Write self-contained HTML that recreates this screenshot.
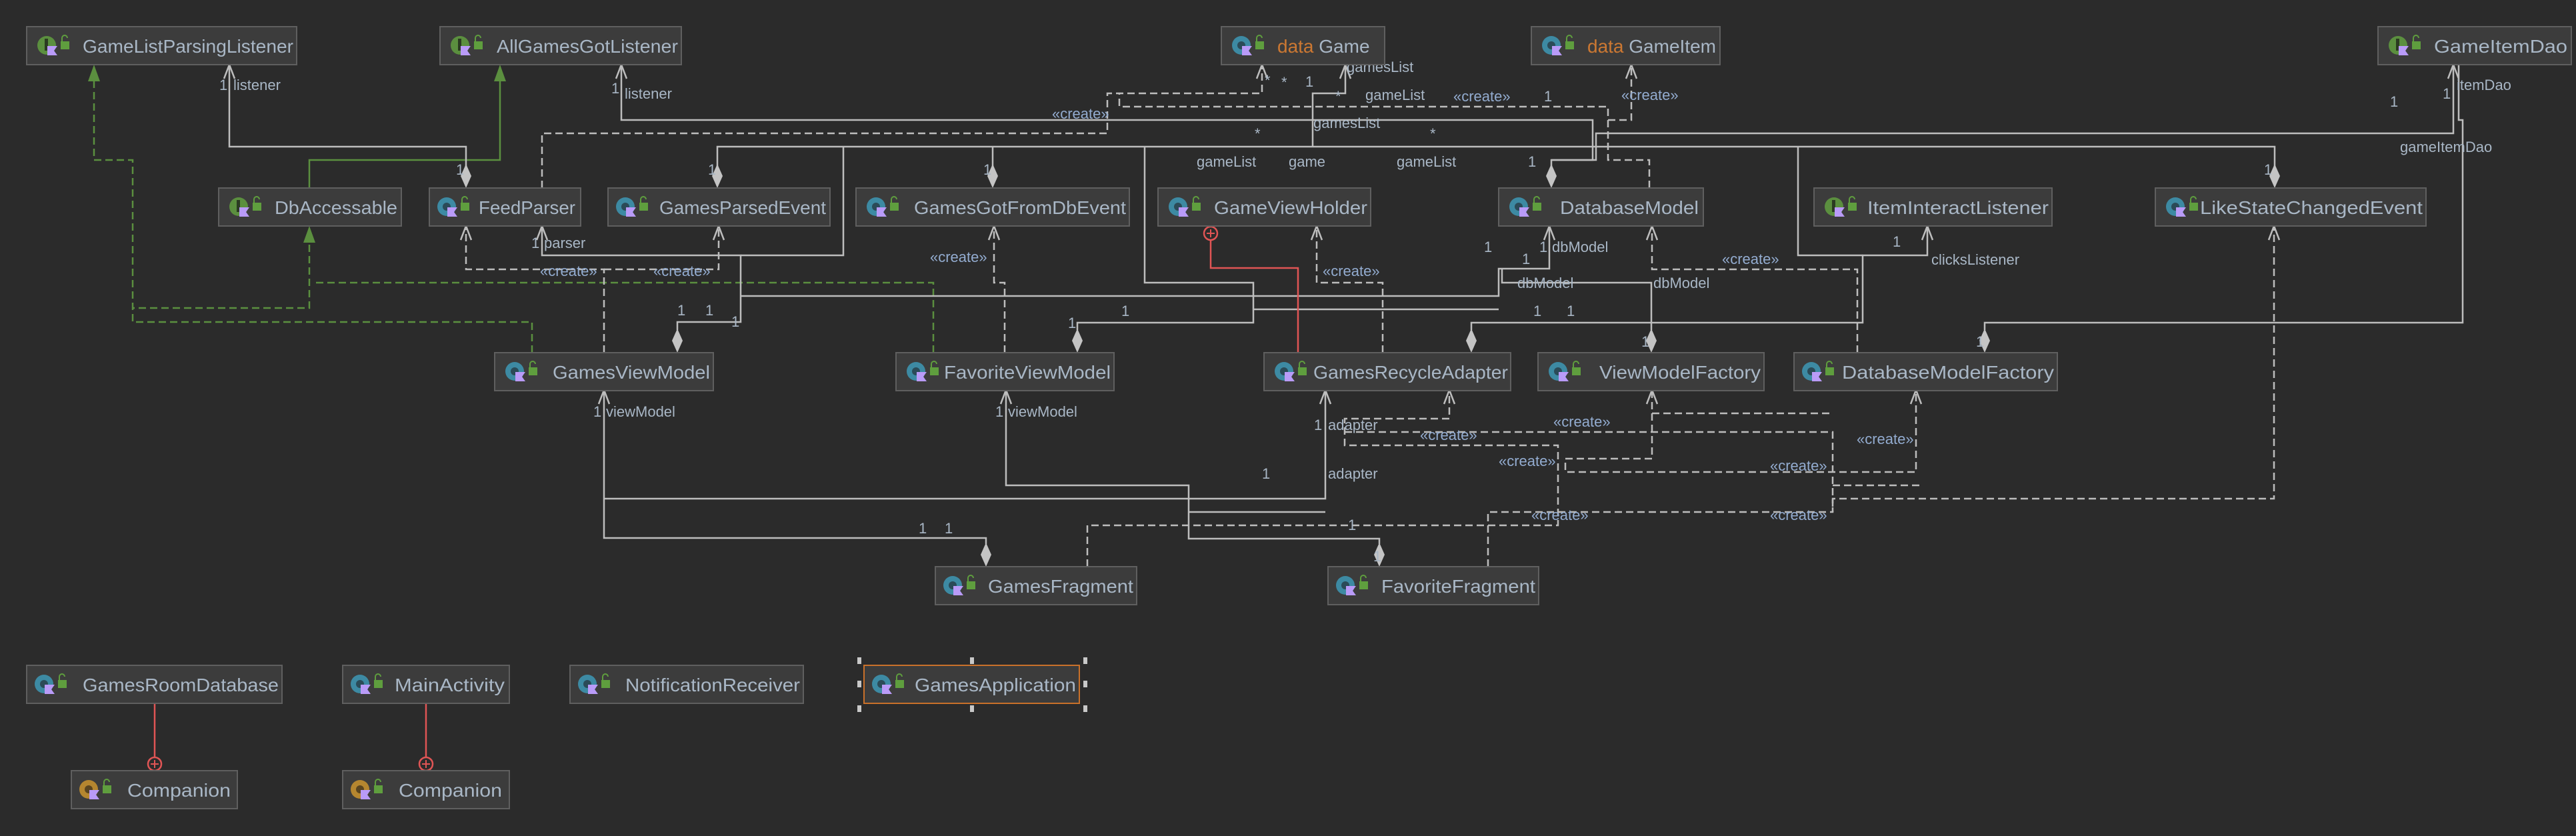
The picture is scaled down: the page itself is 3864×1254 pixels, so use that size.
<!DOCTYPE html>
<html><head><meta charset="utf-8"><style>
html,body{margin:0;padding:0;background:#2b2b2b;}
svg{display:block;}
.bx{fill:#3c3c3c;stroke:#5f5f5f;stroke-width:2;}
.nm{font-family:"Liberation Sans",sans-serif;font-size:28px;fill:#a9b7c6;}
.lb{font-family:"Liberation Sans",sans-serif;font-size:22px;fill:#a9b7c6;}
.cr{font-family:"Liberation Sans",sans-serif;font-size:22px;fill:#93acd0;}
.s{fill:none;stroke:#bdbdbd;stroke-width:2.5;}
.d{fill:none;stroke:#bdbdbd;stroke-width:2.5;stroke-dasharray:11,6;}
.g{fill:none;stroke:#5b8f3f;stroke-width:2.5;}
.gd{fill:none;stroke:#5b8f3f;stroke-width:2.5;stroke-dasharray:11,6;}
.r{fill:none;stroke:#e05555;stroke-width:2.5;}
.ar{fill:none;stroke:#bdbdbd;stroke-width:2.5;}
.dm{fill:#c4c4c4;}
</style></head><body>
<svg width="3864" height="1254" viewBox="0 0 3864 1254" xmlns="http://www.w3.org/2000/svg">
<defs>
<symbol id="ic" viewBox="0 0 60 40" width="60" height="40"><circle cx="24" cy="20" r="14" fill="#3d8aa3"/><circle cx="24" cy="20" r="6" fill="#2b4b58"/><path d="M25 21h15l-5 7 5 7H25z" fill="#b99bf8"/><rect x="45" y="14" width="13" height="12" fill="#5f9e3e"/><path d="M47 14v-5a4 4 0 0 1 8 0" fill="none" stroke="#5f9e3e" stroke-width="2"/></symbol>
<symbol id="ii" viewBox="0 0 60 40" width="60" height="40"><circle cx="24" cy="20" r="14" fill="#5b8f3f"/><rect x="21" y="10" width="5" height="18" fill="#2b3b22"/><path d="M25 21h15l-5 7 5 7H25z" fill="#b99bf8"/><rect x="45" y="14" width="13" height="12" fill="#5f9e3e"/><path d="M47 14v-5a4 4 0 0 1 8 0" fill="none" stroke="#5f9e3e" stroke-width="2"/></symbol>
<symbol id="io" viewBox="0 0 60 40" width="60" height="40"><circle cx="24" cy="20" r="14" fill="#b5862f"/><circle cx="24" cy="20" r="6" fill="#5a4520"/><path d="M25 21h15l-5 7 5 7H25z" fill="#b99bf8"/><rect x="45" y="14" width="13" height="12" fill="#5f9e3e"/><path d="M47 14v-5a4 4 0 0 1 8 0" fill="none" stroke="#5f9e3e" stroke-width="2"/></symbol>
</defs>

<!-- ========== CONNECTORS ========== -->
<!-- green inheritance -->
<path class="g" d="M464,282 V240 H750 V110"/>
<polygon points="750,97 741,122 759,122" fill="#5b8f3f"/>
<path class="gd" d="M798,529 V483 H199 V240 H141 V110"/>
<polygon points="141,97 132,122 150,122" fill="#5b8f3f"/>
<path class="gd" d="M464,350 V462 H199"/>
<polygon points="464,339 455,364 473,364" fill="#5b8f3f"/>
<path class="gd" d="M1400,529 V424 H470"/>

<!-- solid associations -->
<path class="s" d="M699,250 V220 H344 V98"/>
<path class="s" d="M932,98 V180 H2389 V240 H2327 V250"/>
<path class="s" d="M2327,240 H2394 V200 H3680 V98"/>
<path class="s" d="M1076,250 V220 H3412 V250"/>
<path class="s" d="M1489,250 V220"/>
<path class="s" d="M2018,98 V140 H1969 V220"/>
<path class="s" d="M1016,495 V483 H1111 V383 H813 V340"/>
<path class="s" d="M1111,383 H1265 V220"/>
<path class="s" d="M1111,444 H2248 V403 H2324 V340"/>
<path class="s" d="M1616,495 V484 H1880 V424 H1717 V220"/>
<path class="s" d="M1880,464 H2248"/>
<path class="s" d="M2477,495 V424 H2253 V403"/>
<path class="s" d="M2207,495 V484 H2794 V383 H2891 V340"/>
<path class="s" d="M2794,383 H2697 V220"/>
<path class="s" d="M2977,495 V484 H3694 V180 H3688 V98"/>
<path class="s" d="M1479,816 V807 H906 V586"/>
<path class="s" d="M906,748 H1988 V586"/>
<path class="s" d="M2069,816 V808 H1783 V728 H1509 V586"/>
<path class="s" d="M1783,768 H1988"/>

<!-- dashed dependencies -->
<path class="d" d="M813,282 V200 H1661 V140 H1893 V98"/>
<path class="d" d="M2474,282 V240 H2412 V160 H1679 V140"/>
<path class="d" d="M2412,180 H2447 V98"/>
<path class="d" d="M906,529 V404 H699 V340"/>
<path class="d" d="M906,404 H1078 V340"/>
<path class="d" d="M1507,529 V424 H1491 V340"/>
<path class="d" d="M2074,529 V424 H1975 V340"/>
<path class="d" d="M2786,529 V404 H2478 V340"/>
<path class="d" d="M1631,850 V788 H2337 V668 H2017 V628 H2174 V586"/>
<path class="d" d="M2017,648 H2749 V768"/>
<path class="d" d="M2232,850 V768 H2749 V748 H3411 V340"/>
<path class="d" d="M2478,586 V688 H2348 V708 H2874 V586"/>
<path class="d" d="M2478,620 H2749"/>
<path class="d" d="M2749,728 H2881"/>

<!-- open arrowheads -->
<g class="ar">
<path d="M336,118 L344,97 L352,118"/>
<path d="M924,118 L932,97 L940,118"/>
<path d="M3672,118 L3680,97 L3688,118"/>
<path d="M2010,118 L2018,97 L2026,118"/>
<path d="M1885,118 L1893,97 L1901,118"/>
<path d="M2439,118 L2447,97 L2455,118"/>
<path d="M805,360 L813,339 L821,360"/>
<path d="M691,360 L699,339 L707,360"/>
<path d="M1070,360 L1078,339 L1086,360"/>
<path d="M1483,360 L1491,339 L1499,360"/>
<path d="M1967,360 L1975,339 L1983,360"/>
<path d="M2316,360 L2324,339 L2332,360"/>
<path d="M2470,360 L2478,339 L2486,360"/>
<path d="M2883,360 L2891,339 L2899,360"/>
<path d="M3403,360 L3411,339 L3419,360"/>
<path d="M898,606 L906,585 L914,606"/>
<path d="M1501,606 L1509,585 L1517,606"/>
<path d="M1980,606 L1988,585 L1996,606"/>
<path d="M2166,606 L2174,585 L2182,606"/>
<path d="M2470,606 L2478,585 L2486,606"/>
<path d="M2866,606 L2874,585 L2882,606"/>
</g>

<!-- diamonds -->
<g class="dm">
<polygon points="699,282 691,264 699,246 707,264"/>
<polygon points="2327,282 2319,264 2327,246 2335,264"/>
<polygon points="1076,282 1068,264 1076,246 1084,264"/>
<polygon points="1489,282 1481,264 1489,246 1497,264"/>
<polygon points="3412,282 3404,264 3412,246 3420,264"/>
<polygon points="1016,529 1008,511 1016,493 1024,511"/>
<polygon points="1616,529 1608,511 1616,493 1624,511"/>
<polygon points="2207,529 2199,511 2207,493 2215,511"/>
<polygon points="2477,529 2469,511 2477,493 2485,511"/>
<polygon points="2977,529 2969,511 2977,493 2985,511"/>
<polygon points="1479,850 1471,832 1479,814 1487,832"/>
<polygon points="2069,850 2061,832 2069,814 2077,832"/>
</g>

<!-- nested (red) -->
<path class="r" d="M1816,360 V402 H1947 V529"/>
<circle cx="1816" cy="350" r="10" fill="none" stroke="#e05555" stroke-width="2.5"/>
<path d="M1810,350h12M1816,344v12" stroke="#e05555" stroke-width="2"/>
<path class="r" d="M232,1056 V1136"/>
<circle cx="232" cy="1146" r="10" fill="none" stroke="#e05555" stroke-width="2.5"/>
<path d="M226,1146h12M232,1140v12" stroke="#e05555" stroke-width="2"/>
<path class="r" d="M639,1056 V1136"/>
<circle cx="639" cy="1146" r="10" fill="none" stroke="#e05555" stroke-width="2.5"/>
<path d="M633,1146h12M639,1140v12" stroke="#e05555" stroke-width="2"/>

<!-- ========== LABELS ========== -->
<text class="lb" x="329" y="135">1</text><text class="lb" x="350" y="135">listener</text>
<text class="lb" x="917" y="140">1</text><text class="lb" x="937" y="148">listener</text>
<text class="lb" x="684" y="262">1</text>
<text class="lb" x="1062" y="262">1</text>
<text class="lb" x="1475" y="262">1</text>
<text class="lb" x="2292" y="250">1</text>
<text class="lb" x="3396" y="262">1</text>
<text class="lb" x="2020" y="108">gamesList</text>
<text class="lb" x="1897" y="128">*</text><text class="lb" x="1922" y="131">*</text><text class="lb" x="1958" y="130">1</text>
<text class="lb" x="2003" y="152">*</text>
<text class="lb" x="2048" y="150">gameList</text>
<text class="cr" x="2180" y="152">«create»</text>
<text class="lb" x="2316" y="152">1</text>
<text class="cr" x="1578" y="178">«create»</text>
<text class="lb" x="1970" y="192">gamesList</text>
<text class="lb" x="1882" y="208">*</text><text class="lb" x="2145" y="208">*</text>
<text class="lb" x="1795" y="250">gameList</text>
<text class="lb" x="1933" y="250">game</text>
<text class="lb" x="2095" y="250">gameList</text>
<text class="cr" x="2432" y="150">«create»</text>
<text class="lb" x="3585" y="160">1</text><text class="lb" x="3664" y="148">1</text><text class="lb" x="3685" y="135">itemDao</text>
<text class="lb" x="3600" y="228">gameItemDao</text>
<text class="lb" x="797" y="372">1</text><text class="lb" x="816" y="372">parser</text>
<text class="cr" x="810" y="414">«create»</text><text class="cr" x="980" y="414">«create»</text>
<text class="lb" x="1016" y="473">1</text><text class="lb" x="1058" y="473">1</text><text class="lb" x="1097" y="490">1</text>
<text class="cr" x="1395" y="393">«create»</text>
<text class="lb" x="1682" y="474">1</text><text class="lb" x="1602" y="492">1</text>
<text class="cr" x="1984" y="414">«create»</text>
<text class="lb" x="2226" y="378">1</text><text class="lb" x="2309" y="378">1</text><text class="lb" x="2328" y="378">dbModel</text><text class="lb" x="2283" y="396">1</text>
<text class="lb" x="2276" y="432">dbModel</text><text class="lb" x="2480" y="432">dbModel</text>
<text class="cr" x="2583" y="396">«create»</text>
<text class="lb" x="2839" y="370">1</text><text class="lb" x="2897" y="397">clicksListener</text>
<text class="lb" x="2300" y="474">1</text><text class="lb" x="2350" y="474">1</text>
<text class="lb" x="2462" y="520">1</text><text class="lb" x="2964" y="520">1</text>
<text class="lb" x="890" y="625">1</text><text class="lb" x="909" y="625">viewModel</text>
<text class="lb" x="1493" y="625">1</text><text class="lb" x="1512" y="625">viewModel</text>
<text class="lb" x="1971" y="645">1</text><text class="lb" x="1992" y="645">adapter</text>
<text class="lb" x="1893" y="718">1</text><text class="lb" x="1992" y="718">adapter</text>
<text class="lb" x="1378" y="800">1</text><text class="lb" x="1417" y="800">1</text>
<text class="lb" x="2022" y="795">1</text><text class="lb" x="2060" y="842">1</text>
<text class="cr" x="2330" y="640">«create»</text>
<text class="cr" x="2130" y="660">«create»</text>
<text class="cr" x="2248" y="699">«create»</text>
<text class="cr" x="2785" y="666">«create»</text>
<text class="cr" x="2655" y="706">«create»</text>
<text class="cr" x="2297" y="780">«create»</text>
<text class="cr" x="2655" y="780">«create»</text>

<!-- ========== BOXES ========== -->
<g class="nm">
<rect class="bx" x="40" y="40" width="405" height="57"/><use href="#ii" x="46" y="48"/><text x="124" y="79" textLength="316" lengthAdjust="spacingAndGlyphs">GameListParsingListener</text>
<rect class="bx" x="660" y="40" width="362" height="57"/><use href="#ii" x="666" y="48"/><text x="745" y="79" textLength="272" lengthAdjust="spacingAndGlyphs">AllGamesGotListener</text>
<rect class="bx" x="1832" y="40" width="245" height="57"/><use href="#ic" x="1838" y="48"/><text x="1916" y="79"><tspan fill="#cc7832">data</tspan> Game</text>
<rect class="bx" x="2297" y="40" width="283" height="57"/><use href="#ic" x="2303" y="48"/><text x="2381" y="79"><tspan fill="#cc7832">data</tspan> GameItem</text>
<rect class="bx" x="3567" y="40" width="290" height="57"/><use href="#ii" x="3573" y="48"/><text x="3651" y="79" textLength="200" lengthAdjust="spacingAndGlyphs">GameItemDao</text>

<rect class="bx" x="328" y="282" width="274" height="57"/><use href="#ii" x="334" y="290"/><text x="412" y="321" textLength="184" lengthAdjust="spacingAndGlyphs">DbAccessable</text>
<rect class="bx" x="644" y="282" width="227" height="57"/><use href="#ic" x="646" y="290"/><text x="718" y="321" textLength="145" lengthAdjust="spacingAndGlyphs">FeedParser</text>
<rect class="bx" x="912" y="282" width="333" height="57"/><use href="#ic" x="914" y="290"/><text x="989" y="321" textLength="250" lengthAdjust="spacingAndGlyphs">GamesParsedEvent</text>
<rect class="bx" x="1284" y="282" width="410" height="57"/><use href="#ic" x="1290" y="290"/><text x="1371" y="321" textLength="318" lengthAdjust="spacingAndGlyphs">GamesGotFromDbEvent</text>
<rect class="bx" x="1737" y="282" width="319" height="57"/><use href="#ic" x="1743" y="290"/><text x="1821" y="321" textLength="230" lengthAdjust="spacingAndGlyphs">GameViewHolder</text>
<rect class="bx" x="2248" y="282" width="307" height="57"/><use href="#ic" x="2254" y="290"/><text x="2340" y="321" textLength="208" lengthAdjust="spacingAndGlyphs">DatabaseModel</text>
<rect class="bx" x="2721" y="282" width="357" height="57"/><use href="#ii" x="2727" y="290"/><text x="2801" y="321" textLength="272" lengthAdjust="spacingAndGlyphs">ItemInteractListener</text>
<rect class="bx" x="3233" y="282" width="406" height="57"/><use href="#ic" x="3239" y="290"/><text x="3300" y="321" textLength="334" lengthAdjust="spacingAndGlyphs">LikeStateChangedEvent</text>

<rect class="bx" x="742" y="529" width="328" height="57"/><use href="#ic" x="748" y="537"/><text x="829" y="568" textLength="236" lengthAdjust="spacingAndGlyphs">GamesViewModel</text>
<rect class="bx" x="1344" y="529" width="327" height="57"/><use href="#ic" x="1350" y="537"/><text x="1416" y="568" textLength="250" lengthAdjust="spacingAndGlyphs">FavoriteViewModel</text>
<rect class="bx" x="1896" y="529" width="370" height="57"/><use href="#ic" x="1902" y="537"/><text x="1970" y="568" textLength="292" lengthAdjust="spacingAndGlyphs">GamesRecycleAdapter</text>
<rect class="bx" x="2307" y="529" width="339" height="57"/><use href="#ic" x="2313" y="537"/><text x="2399" y="568" textLength="242" lengthAdjust="spacingAndGlyphs">ViewModelFactory</text>
<rect class="bx" x="2691" y="529" width="395" height="57"/><use href="#ic" x="2693" y="537"/><text x="2763" y="568" textLength="318" lengthAdjust="spacingAndGlyphs">DatabaseModelFactory</text>

<rect class="bx" x="1403" y="850" width="302" height="57"/><use href="#ic" x="1405" y="858"/><text x="1482" y="889" textLength="218" lengthAdjust="spacingAndGlyphs">GamesFragment</text>
<rect class="bx" x="1992" y="850" width="316" height="57"/><use href="#ic" x="1994" y="858"/><text x="2072" y="889" textLength="231" lengthAdjust="spacingAndGlyphs">FavoriteFragment</text>

<rect class="bx" x="40" y="998" width="383" height="57"/><use href="#ic" x="42" y="1006"/><text x="124" y="1037" textLength="294" lengthAdjust="spacingAndGlyphs">GamesRoomDatabase</text>
<rect class="bx" x="514" y="998" width="250" height="57"/><use href="#ic" x="516" y="1006"/><text x="592" y="1037" textLength="165" lengthAdjust="spacingAndGlyphs">MainActivity</text>
<rect class="bx" x="855" y="998" width="350" height="57"/><use href="#ic" x="857" y="1006"/><text x="938" y="1037" textLength="262" lengthAdjust="spacingAndGlyphs">NotificationReceiver</text>
<rect class="bx" x="1296" y="998" width="323" height="57" style="stroke:#c9712a"/><use href="#ic" x="1298" y="1006"/><text x="1372" y="1037" textLength="242" lengthAdjust="spacingAndGlyphs">GamesApplication</text>
<rect class="bx" x="107" y="1156" width="249" height="57"/><use href="#io" x="109" y="1164"/><text x="191" y="1195" textLength="155" lengthAdjust="spacingAndGlyphs">Companion</text>
<rect class="bx" x="514" y="1156" width="250" height="57"/><use href="#io" x="516" y="1164"/><text x="598" y="1195" textLength="155" lengthAdjust="spacingAndGlyphs">Companion</text>
</g>
<!-- selection handles -->
<g fill="#c8c8c8">
<rect x="1286" y="986" width="6" height="10"/><rect x="1455" y="986" width="6" height="10"/><rect x="1625" y="986" width="6" height="10"/>
<rect x="1286" y="1021" width="6" height="10"/><rect x="1625" y="1021" width="6" height="10"/>
<rect x="1286" y="1058" width="6" height="10"/><rect x="1455" y="1058" width="6" height="10"/><rect x="1625" y="1058" width="6" height="10"/>
</g>
</svg>
</body></html>
